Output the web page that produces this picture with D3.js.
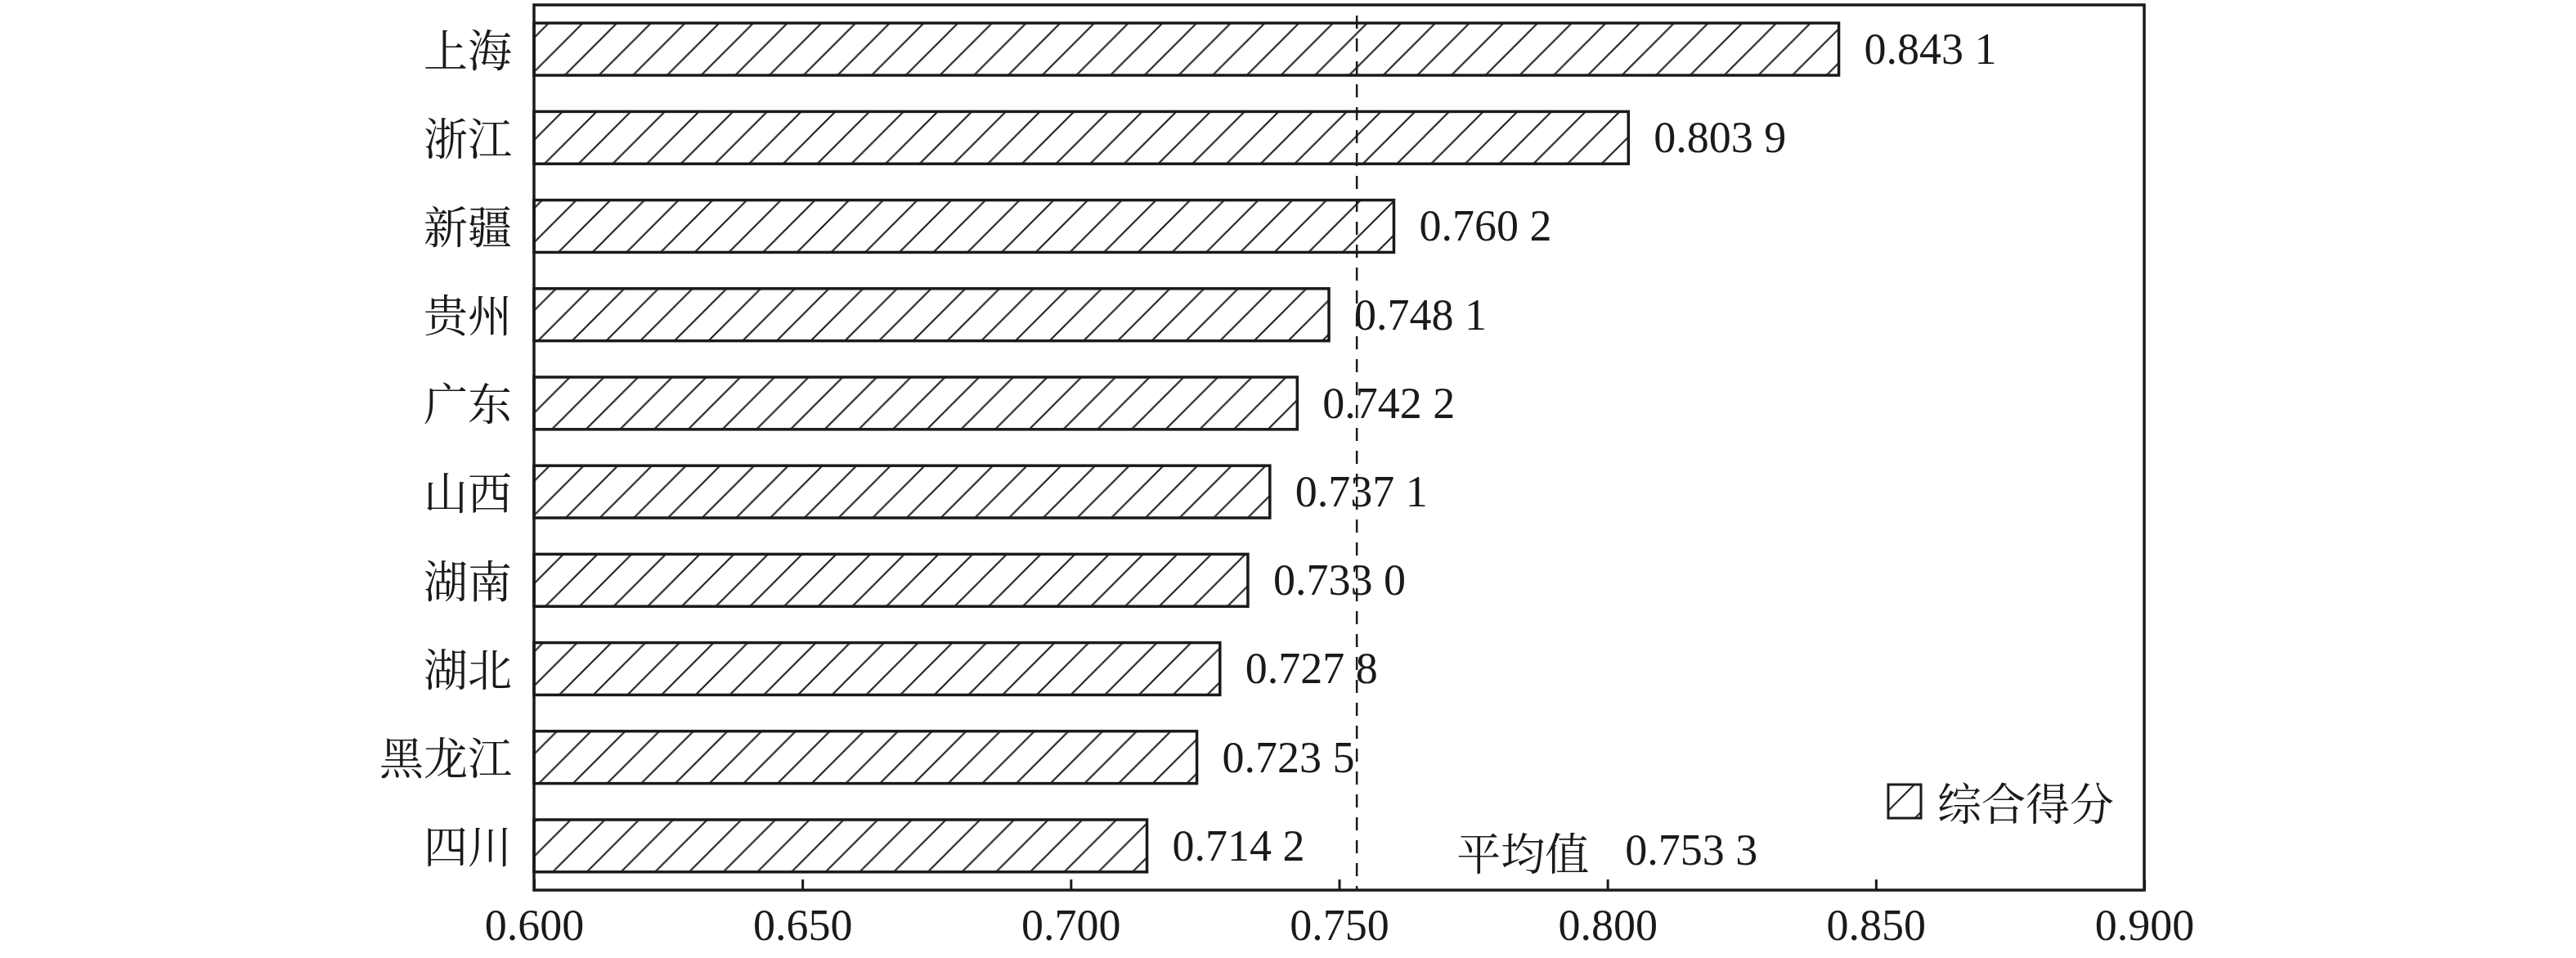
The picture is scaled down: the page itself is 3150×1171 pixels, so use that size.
<!DOCTYPE html>
<html>
<head>
<meta charset="utf-8">
<script src="https://cdn.jsdelivr.net/npm/d3@7"></script>
<style>
  html, body { margin: 0; padding: 0; background: #fff; }
  svg text { fill: #1a1a1a; }
  .num { font-family: "Liberation Serif", "Times New Roman", serif; }
  .cjk { font-family: "Noto Serif CJK SC", "Noto Sans CJK SC", serif; }
</style>
</head>
<body>
<svg id="chart" width="3150" height="1171"></svg>
<script>
// ── Data ──────────────────────────────────────────────────────────────────────
const provinces = ["上海", "浙江", "新疆", "贵州", "广东", "山西", "湖南", "湖北", "黑龙江", "四川"];
const scores    = [0.8431, 0.8039, 0.7602, 0.7481, 0.7422, 0.7371, 0.7330, 0.7278, 0.7235, 0.7142];
const meanScore = 0.7533;
const xTicks    = [0.600, 0.650, 0.700, 0.750, 0.800, 0.850, 0.900];
const seriesName = "综合得分";
const meanName   = "平均值";

// "0.7330" -> "0.733 0"
function fmt4(v) { const s = v.toFixed(4); return s.slice(0, 5) + " " + s.slice(5); }

// ── Layout ────────────────────────────────────────────────────────────────────
const svg = d3.select("#chart");
const ink = "#1a1a1a";
const FS  = 54;
const plot = { left: 653, right: 2622, top: 6, bottom: 1088 };

const x = d3.scaleLinear().domain([0.6, 0.9]).range([plot.left, plot.right]);
const y = d3.scaleBand().domain(provinces).range([plot.top, plot.bottom])
  .paddingInner(0.41).paddingOuter(0.205);

// hatch pattern (45° lines)
const hw = 41.7;
svg.append("defs").append("pattern")
  .attr("id", "hatch")
  .attr("patternUnits", "userSpaceOnUse")
  .attr("x", 32).attr("y", 0)
  .attr("width", hw).attr("height", hw)
  .append("path")
  .attr("d", `M0,${hw} L${hw},0 M-2,2 L2,-2 M${hw - 2},${hw + 2} L${hw + 2},${hw - 2}`)
  .attr("stroke", ink).attr("stroke-width", 2).attr("fill", "none");

// ── Bars ──────────────────────────────────────────────────────────────────────
const rows = provinces.map((p, i) => ({ p, v: scores[i] }));

svg.append("g").selectAll("rect").data(rows).join("rect")
  .attr("x", x(0.6))
  .attr("y", d => y(d.p))
  .attr("width", d => x(d.v) - x(0.6))
  .attr("height", y.bandwidth())
  .attr("fill", "url(#hatch)")
  .attr("stroke", ink)
  .attr("stroke-width", 3.5);

// value labels
svg.append("g").selectAll("text").data(rows).join("text")
  .attr("class", "num")
  .attr("x", d => x(d.v) + 31)
  .attr("y", d => y(d.p) + y.bandwidth() / 2)
  .attr("dy", "0.33em")
  .style("font-size", `${FS}px`)
  .text(d => fmt4(d.v));

// category labels
svg.append("g").selectAll("text").data(rows).join("text")
  .attr("class", "cjk")
  .attr("x", plot.left - 27)
  .attr("y", d => y(d.p) + y.bandwidth() / 2 - 2)
  .attr("text-anchor", "end")
  .attr("dominant-baseline", "central")
  .style("font-size", `${FS}px`)
  .text(d => d.p);

// ── Mean line ─────────────────────────────────────────────────────────────────
svg.append("line")
  .attr("x1", x(meanScore)).attr("x2", x(meanScore))
  .attr("y1", plot.top + 13).attr("y2", plot.bottom)
  .attr("stroke", ink).attr("stroke-width", 2.5)
  .attr("stroke-dasharray", "16,12");

svg.append("text")
  .attr("class", "cjk")
  .attr("x", x(meanScore) + 122).attr("y", 1040)
  .attr("dominant-baseline", "central")
  .style("font-size", `${FS}px`)
  .text(meanName);
svg.append("text")
  .attr("class", "num")
  .attr("x", x(meanScore) + 328).attr("y", 1057)
  .style("font-size", `${FS}px`)
  .text(fmt4(meanScore));

// ── Axis + frame ──────────────────────────────────────────────────────────────
const xAxis = svg.append("g")
  .attr("transform", `translate(0,${plot.bottom})`)
  .call(d3.axisBottom(x).tickValues(xTicks).tickFormat(d3.format(".3f"))
    .tickSize(-13).tickSizeOuter(0).tickPadding(23));
xAxis.select(".domain").remove();
xAxis.selectAll(".tick line").attr("stroke", ink).attr("stroke-width", 3);
xAxis.selectAll(".tick text")
  .attr("class", "num")
  .attr("fill", ink)
  .style("font-size", `${FS}px`)
  .attr("y", 23).attr("dy", "0.71em");

svg.append("rect")
  .attr("x", plot.left).attr("y", plot.top)
  .attr("width", plot.right - plot.left).attr("height", plot.bottom - plot.top)
  .attr("fill", "none").attr("stroke", ink).attr("stroke-width", 3.5);

// ── Legend ────────────────────────────────────────────────────────────────────
const lg = svg.append("g").attr("transform", "translate(2309,959)");
lg.append("rect")
  .attr("width", 40).attr("height", 41)
  .attr("fill", "url(#hatch)")
  .attr("stroke", ink).attr("stroke-width", 3);
lg.append("text")
  .attr("class", "cjk")
  .attr("x", 60).attr("y", 20)
  .attr("dominant-baseline", "central")
  .style("font-size", `${FS}px`)
  .text(seriesName);
</script>
</body>
</html>
